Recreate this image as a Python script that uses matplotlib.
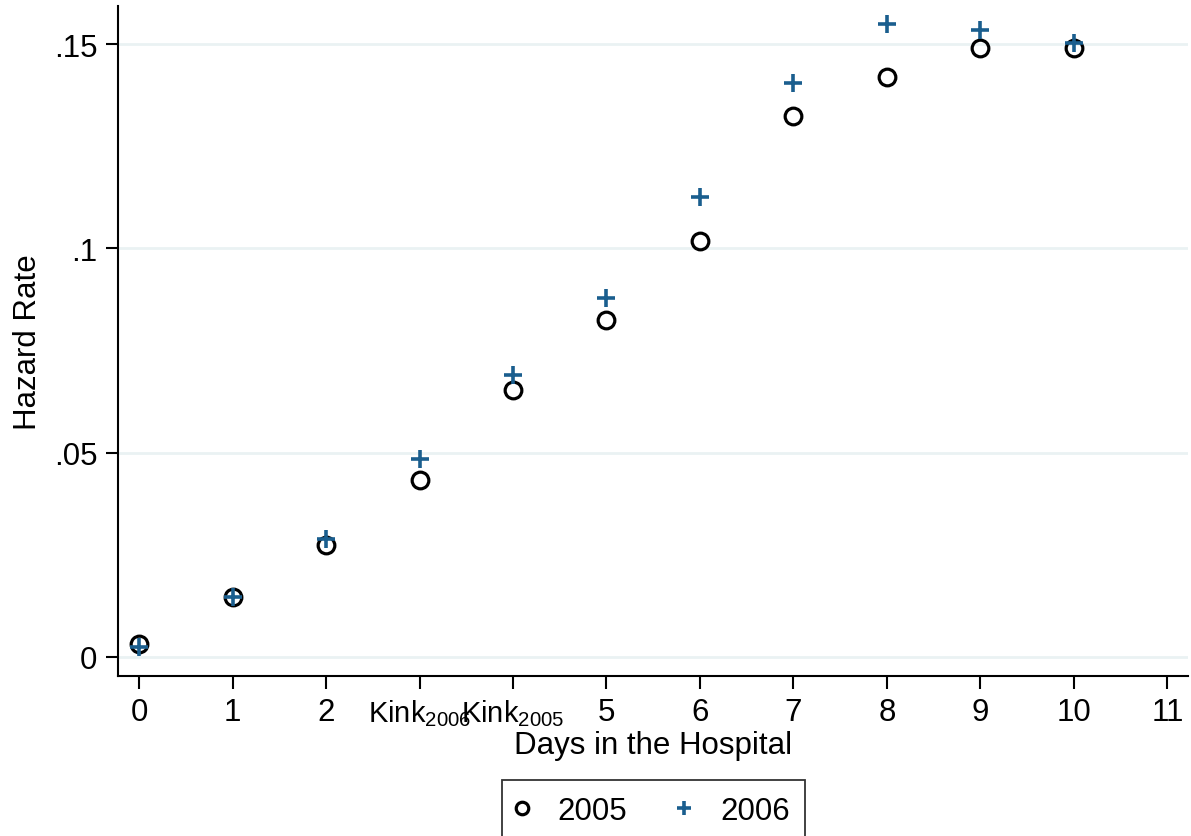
import matplotlib.pyplot as plt
import numpy as np

plt.rcParams['font.family'] = ['Liberation Sans', 'DejaVu Sans']
plt.rcParams['mathtext.fontset'] = 'custom'
plt.rcParams['mathtext.rm'] = 'Liberation Sans'
plt.rcParams['mathtext.it'] = 'Liberation Sans'

days = [0, 1, 2, 3, 4, 5, 6, 7, 8, 9, 10]
hazard_2005 = [0.0032, 0.0147, 0.0274, 0.0433, 0.0653, 0.0825, 0.1018, 0.1324, 0.1419, 0.1490, 0.1490]
hazard_2006 = [0.0024, 0.0147, 0.0289, 0.0485, 0.0690, 0.0879, 0.1126, 0.1405, 0.1549, 0.1535, 0.1503]

xticks = list(range(12))
xlabels = ['0', '1', '2', r'Kink$_{2006}$', r'Kink$_{2005}$', '5', '6', '7', '8', '9', '10', '11']
yticks = [0, 0.05, 0.1, 0.15]
ylabels = ['0', '.05', '.1', '.15']

fs = 22.5

fig = plt.figure(figsize=(11.91, 8.37), dpi=100)
ax = fig.add_axes([118/1191, 1 - 677/837, (1188 - 118)/1191, (677 - 7)/837])

for y in yticks:
    ax.axhline(y, color='#eaf2f3', lw=2, zorder=0)

ax.plot(days, hazard_2005, ls='none', marker='o', ms=12, mfc='none', mec='black', mew=2.3, label='2005')
ax.plot(days, hazard_2006, ls='none', marker='+', ms=13, mec='#1a5e8e', mew=2.6, label='2006')

ax.set_xlim(-0.225, 11.22)
ax.set_ylim(-0.00465, 0.1593)
ax.set_xticks(xticks)
ax.set_xticklabels(xlabels)
ax.set_yticks(yticks)
ax.set_yticklabels(ylabels)
ax.tick_params(axis='both', length=9, width=1.5, labelsize=fs)
ax.tick_params(axis='x', pad=6)
ax.tick_params(axis='y', pad=6)
# the two kink labels sit side by side, keep them a bit narrower
for lab in ax.get_xticklabels()[3:5]:
    lab.set_fontsize(21)

for s in ['top', 'right']:
    ax.spines[s].set_visible(False)
for s in ['left', 'bottom']:
    ax.spines[s].set_linewidth(1.5)

ax.set_xlabel('Days in the Hospital', fontsize=fs, labelpad=2)
ax.set_ylabel('Hazard Rate', fontsize=fs, labelpad=8)

leg = fig.legend(loc='upper center', bbox_to_anchor=(0.5487, 1 - 781/837), ncol=2, fontsize=fs,
                 frameon=True, fancybox=False, edgecolor='black', handletextpad=1.0,
                 columnspacing=1.67, borderpad=0.5, handlelength=0.3, borderaxespad=0,
                 markerscale=0.75)
leg.get_frame().set_linewidth(1.3)

fig.savefig('out.png', dpi=100)
